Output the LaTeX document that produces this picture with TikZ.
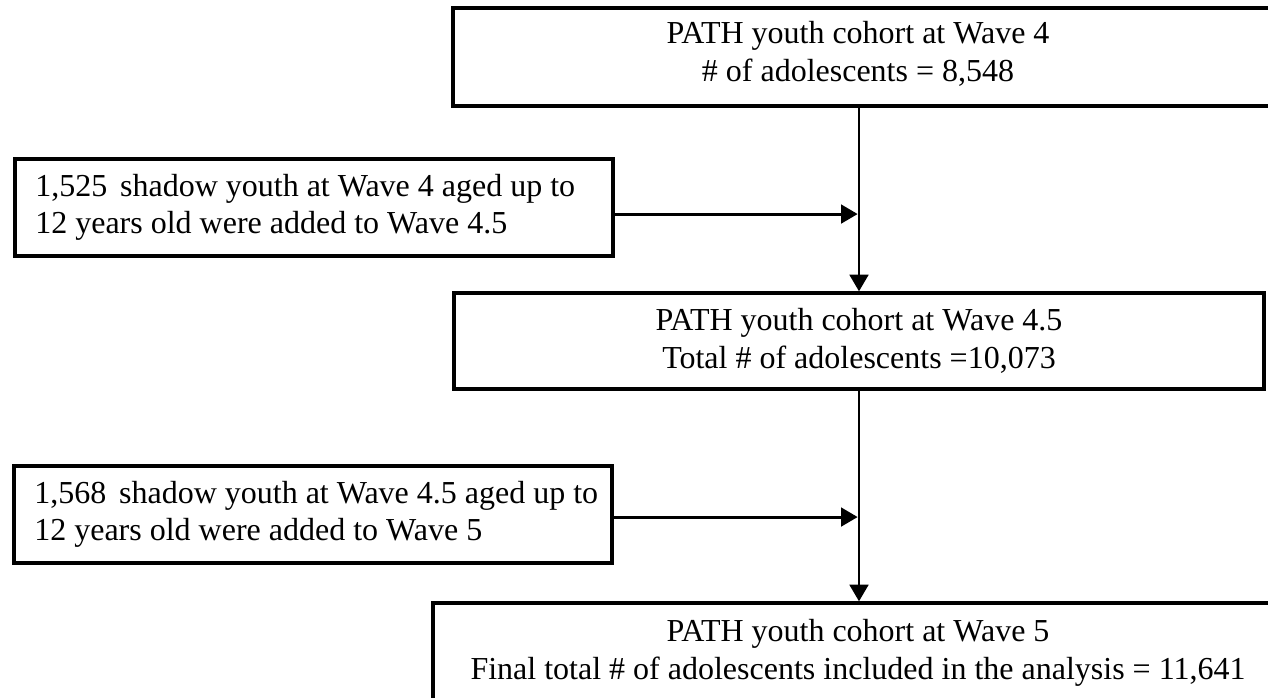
\documentclass[tikz,border=0pt]{standalone}
\usepackage{fontspec}
\setmainfont{Liberation Serif}
\usetikzlibrary{arrows.meta}
\begin{document}
\begin{tikzpicture}[x=0.75pt,y=-0.75pt,
  box/.style={draw, line width=2.5pt, inner sep=0pt},
  txt/.style={font=\fontsize{24}{28}\selectfont, align=center},
  sidebox/.style={box, font=\fontsize{24}{28}\selectfont, align=flush left,
    text width=418pt, inner xsep=15.25pt, minimum height=72.75pt},
  arr/.style={line width=2.2pt, -{Triangle[length=12.5pt,width=14pt]}}]
\useasboundingbox (0,0) rectangle (1268,697);
\clip (0,0) rectangle (1268,697);

% main column boxes
\node[box, minimum width=635.25pt, minimum height=73.5pt] (b1) at (876.5,57) {};
\node[txt] (b1t) at (858,54) {PATH youth cohort at Wave 4\\\# of adolescents = 8,548};

\node[box, txt, minimum width=607.5pt, minimum height=72pt] (b3) at (859,341)
  {PATH youth cohort at Wave 4.5\\Total \# of adolescents =10,073};

\node[box, txt, minimum width=637.5pt, minimum height=75pt] (b5) at (858,653)
  {PATH youth cohort at Wave 5\\Final total \# of adolescents included in the analysis = 11,641};

% side boxes
\node[sidebox] (b2) at (314,207.5)
  {\mbox{1,525\hspace{0.15em} shadow youth at Wave 4 aged up to}\\\mbox{12 years old were added to Wave 4.5}};
\node[sidebox] (b4) at (313,514.5)
  {\mbox{1,568\hspace{0.15em} shadow youth at Wave 4.5 aged up to}\\\mbox{12 years old were added to Wave 5}};

% connectors
\draw[arr] (b3.north |- b1.south) -- (b3.north);
\draw[arr, shorten >=1pt] ([yshift=-4.9pt]b2.east) -- ([yshift=-4.9pt]b2.east -| b3.north);
\draw[arr] (b3.south) -- (b3.south |- b5.north);
\draw[arr, shorten >=1pt] ([yshift=-1.9pt]b4.east) -- ([yshift=-1.9pt]b4.east -| b3.south);
\end{tikzpicture}
\end{document}
